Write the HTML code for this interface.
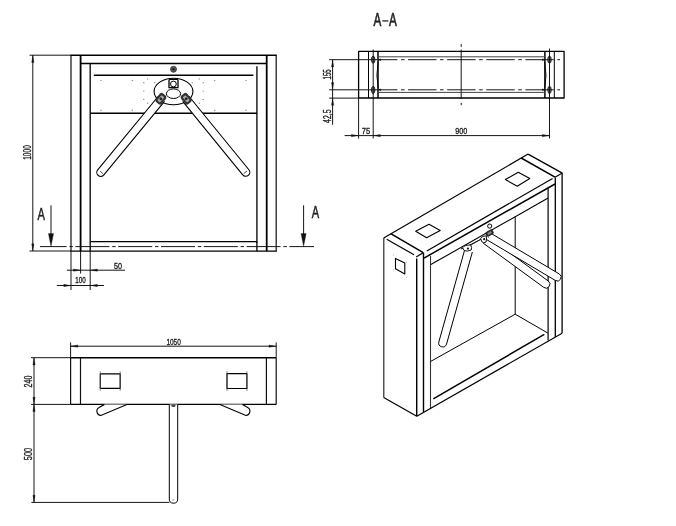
<!DOCTYPE html>
<html><head><meta charset="utf-8"><style>
html,body{margin:0;padding:0;background:#fff;}
svg{display:block;filter:grayscale(1);}
text{font-family:"Liberation Sans",sans-serif;}
</style></head><body>
<svg width="676" height="526" viewBox="0 0 676 526">
<rect width="676" height="526" fill="#fff"/>
<line x1="29.50" y1="55.20" x2="71.00" y2="55.20" stroke="#151515" stroke-width="1.0" />
<line x1="29.50" y1="251.00" x2="71.00" y2="251.00" stroke="#151515" stroke-width="1.0" />
<line x1="32.80" y1="55.20" x2="32.80" y2="251.00" stroke="#151515" stroke-width="1.0" />
<path d="M32.80,55.40 L33.95,62.40 L31.65,62.40 Z" fill="#111" stroke="#111" stroke-width="0.3"/>
<path d="M32.80,250.80 L31.65,243.80 L33.95,243.80 Z" fill="#111" stroke="#111" stroke-width="0.3"/>
<text x="31.10" y="159.80" font-size="10" fill="#222" stroke="#222" stroke-width="0.35" font-weight="normal" textLength="14.60" lengthAdjust="spacingAndGlyphs" transform="rotate(-90 31.10 159.80)" text-anchor="start">1000</text>
<line x1="71.00" y1="55.20" x2="71.00" y2="251.20" stroke="#222" stroke-width="1.3" />
<line x1="80.60" y1="55.20" x2="80.60" y2="251.20" stroke="#000" stroke-width="1.8" />
<line x1="266.70" y1="55.20" x2="266.70" y2="251.20" stroke="#000" stroke-width="1.8" />
<line x1="276.20" y1="55.20" x2="276.20" y2="251.20" stroke="#222" stroke-width="1.3" />
<line x1="70.40" y1="55.20" x2="276.80" y2="55.20" stroke="#000" stroke-width="1.45" />
<line x1="80.60" y1="63.50" x2="266.70" y2="63.50" stroke="#000" stroke-width="1.45" />
<line x1="90.20" y1="63.80" x2="90.20" y2="251.20" stroke="#111" stroke-width="1.4" />
<line x1="256.90" y1="66.20" x2="256.90" y2="251.20" stroke="#111" stroke-width="1.4" />
<line x1="93.80" y1="75.20" x2="253.40" y2="75.20" stroke="#000" stroke-width="1.45" />
<line x1="90.20" y1="113.20" x2="257.00" y2="113.20" stroke="#000" stroke-width="1.45" />
<path d="M90.2,241.6 L255.5,241.6 Q257,241.6 257,243" stroke="#000" stroke-width="1.45" fill="none" />
<line x1="70.40" y1="251.10" x2="276.80" y2="251.10" stroke="#000" stroke-width="1.45" />
<line x1="40.00" y1="246.60" x2="314.00" y2="246.60" stroke="#151515" stroke-width="1.0" stroke-dasharray="34 2.8 3.5 2.5" stroke-dashoffset="7.4"/>
<line x1="51.00" y1="205.30" x2="51.00" y2="240.00" stroke="#151515" stroke-width="1.0" />
<path d="M51.00,246.60 L48.40,233.60 L53.60,233.60 Z" fill="#111" stroke="#111" stroke-width="0.3"/>
<line x1="303.60" y1="205.30" x2="303.60" y2="240.00" stroke="#151515" stroke-width="1.0" />
<path d="M303.60,246.60 L301.00,233.60 L306.20,233.60 Z" fill="#111" stroke="#111" stroke-width="0.3"/>
<text x="37.60" y="220.40" font-size="16" fill="#222" stroke="#222" stroke-width="0.5" font-weight="normal" textLength="7.40" lengthAdjust="spacingAndGlyphs" text-anchor="start">A</text>
<text x="311.80" y="218.20" font-size="16" fill="#222" stroke="#222" stroke-width="0.5" font-weight="normal" textLength="7.40" lengthAdjust="spacingAndGlyphs" text-anchor="start">A</text>
<line x1="71.00" y1="251.00" x2="71.00" y2="290.00" stroke="#151515" stroke-width="1.0" />
<line x1="80.60" y1="251.00" x2="80.60" y2="273.50" stroke="#151515" stroke-width="1.0" />
<line x1="90.20" y1="251.00" x2="90.20" y2="290.00" stroke="#151515" stroke-width="1.0" />
<line x1="66.80" y1="270.20" x2="125.00" y2="270.20" stroke="#151515" stroke-width="1.0" />
<path d="M80.40,270.20 L73.40,271.35 L73.40,269.05 Z" fill="#111" stroke="#111" stroke-width="0.3"/>
<path d="M90.40,270.20 L97.40,269.05 L97.40,271.35 Z" fill="#111" stroke="#111" stroke-width="0.3"/>
<text x="114.10" y="268.90" font-size="9" fill="#222" stroke="#222" stroke-width="0.35" font-weight="normal" textLength="8.00" lengthAdjust="spacingAndGlyphs" text-anchor="start">50</text>
<line x1="56.80" y1="285.50" x2="104.00" y2="285.50" stroke="#151515" stroke-width="1.0" />
<path d="M70.80,285.50 L63.80,286.65 L63.80,284.35 Z" fill="#111" stroke="#111" stroke-width="0.3"/>
<path d="M90.40,285.50 L97.40,284.35 L97.40,286.65 Z" fill="#111" stroke="#111" stroke-width="0.3"/>
<text x="75.30" y="283.20" font-size="9" fill="#222" stroke="#222" stroke-width="0.35" font-weight="normal" textLength="10.40" lengthAdjust="spacingAndGlyphs" text-anchor="start">100</text>
<circle cx="101.00" cy="80.40" r="0.70" stroke="none" stroke-width="0" fill="#888"/>
<circle cx="246.00" cy="80.40" r="0.70" stroke="none" stroke-width="0" fill="#888"/>
<circle cx="132.30" cy="80.40" r="0.70" stroke="none" stroke-width="0" fill="#888"/>
<circle cx="214.70" cy="80.40" r="0.70" stroke="none" stroke-width="0" fill="#888"/>
<circle cx="147.70" cy="78.90" r="0.70" stroke="none" stroke-width="0" fill="#888"/>
<circle cx="199.30" cy="78.90" r="0.70" stroke="none" stroke-width="0" fill="#888"/>
<circle cx="143.80" cy="82.80" r="0.70" stroke="none" stroke-width="0" fill="#888"/>
<circle cx="203.20" cy="82.80" r="0.70" stroke="none" stroke-width="0" fill="#888"/>
<circle cx="143.80" cy="91.10" r="0.70" stroke="none" stroke-width="0" fill="#888"/>
<circle cx="203.20" cy="91.10" r="0.70" stroke="none" stroke-width="0" fill="#888"/>
<circle cx="143.80" cy="99.40" r="0.70" stroke="none" stroke-width="0" fill="#888"/>
<circle cx="203.20" cy="99.40" r="0.70" stroke="none" stroke-width="0" fill="#888"/>
<circle cx="147.70" cy="103.20" r="0.70" stroke="none" stroke-width="0" fill="#888"/>
<circle cx="199.30" cy="103.20" r="0.70" stroke="none" stroke-width="0" fill="#888"/>
<circle cx="101.00" cy="110.30" r="0.70" stroke="none" stroke-width="0" fill="#888"/>
<circle cx="246.00" cy="110.30" r="0.70" stroke="none" stroke-width="0" fill="#888"/>
<circle cx="132.30" cy="110.30" r="0.70" stroke="none" stroke-width="0" fill="#888"/>
<circle cx="214.70" cy="110.30" r="0.70" stroke="none" stroke-width="0" fill="#888"/>
<circle cx="154.80" cy="82.80" r="0.70" stroke="none" stroke-width="0" fill="#888"/>
<circle cx="192.20" cy="82.80" r="0.70" stroke="none" stroke-width="0" fill="#888"/>
<ellipse cx="173.50" cy="91.50" rx="19.40" ry="13.30" stroke="#000" stroke-width="1.1" fill="none"/>
<ellipse cx="173.50" cy="93.70" rx="7.10" ry="4.80" stroke="#000" stroke-width="1.0" fill="none"/>
<path d="M169,87.6 L169,80.5 Q169,79.3 170.3,79.3 L176.7,79.3 Q178,79.3 178,80.5 L178,87.6 Z" stroke="#000" stroke-width="1.3" fill="#fff" />
<circle cx="173.40" cy="84.00" r="2.90" stroke="#000" stroke-width="1.0" fill="none"/>
<circle cx="173.50" cy="69.30" r="3.00" stroke="#333" stroke-width="0.8" fill="#555"/>
<circle cx="173.50" cy="69.30" r="1.00" stroke="none" stroke-width="0" fill="#111"/>
<path d="M158.31,96.26 L97.71,169.86 A4.00,4.00 0 0 0 103.89,174.94 L164.49,101.34" stroke="#000" stroke-width="1.1" fill="#fff" stroke-linejoin="round"/>
<path d="M182.70,101.33 L242.70,174.83 A4.00,4.00 0 0 0 248.90,169.77 L188.90,96.27" stroke="#000" stroke-width="1.1" fill="#fff" stroke-linejoin="round"/>
<line x1="100.20" y1="171.20" x2="102.80" y2="173.50" stroke="#333" stroke-width="0.9" />
<line x1="243.80" y1="173.50" x2="247.00" y2="171.00" stroke="#333" stroke-width="0.9" />
<g transform="translate(160.8,98.8) rotate(-50)"><rect x="-5.5" y="-4" width="11" height="8" rx="2.4" fill="#333"/><rect x="-3.4" y="-1.8" width="6.8" height="3.6" rx="1" fill="#aaa"/><circle r="1.4" fill="#222"/></g>
<g transform="translate(186.2,98.8) rotate(50)"><rect x="-5.5" y="-4" width="11" height="8" rx="2.4" fill="#333"/><rect x="-3.4" y="-1.8" width="6.8" height="3.6" rx="1" fill="#aaa"/><circle r="1.4" fill="#222"/></g>
<text x="373.60" y="25.80" font-size="18" fill="#222" stroke="#222" stroke-width="0.6" font-weight="normal" textLength="7.80" lengthAdjust="spacingAndGlyphs" text-anchor="start">A</text>
<line x1="382.30" y1="20.90" x2="388.30" y2="20.90" stroke="#222" stroke-width="1.3" />
<text x="389.00" y="25.80" font-size="18" fill="#222" stroke="#222" stroke-width="0.6" font-weight="normal" textLength="7.80" lengthAdjust="spacingAndGlyphs" text-anchor="start">A</text>
<path d="M358.60,51.40 L564.10,51.40 L564.10,98.00 L358.60,98.00 Z" stroke="#000" stroke-width="1.3" fill="none" stroke-linejoin="round" />
<line x1="368.50" y1="51.40" x2="368.50" y2="98.00" stroke="#000" stroke-width="1.0" />
<line x1="378.00" y1="51.40" x2="378.00" y2="98.00" stroke="#000" stroke-width="1.5" />
<line x1="544.90" y1="51.40" x2="544.90" y2="98.00" stroke="#000" stroke-width="1.5" />
<line x1="554.30" y1="51.40" x2="554.30" y2="98.00" stroke="#000" stroke-width="1.0" />
<line x1="378.00" y1="56.80" x2="544.90" y2="56.80" stroke="#444" stroke-width="1.0" />
<line x1="378.00" y1="92.40" x2="544.90" y2="92.40" stroke="#444" stroke-width="1.0" />
<path d="M378.2,62 Q375.6,75.2 378.2,88.4" stroke="#000" stroke-width="0.9" fill="none" />
<path d="M544.7,62 Q547.3,75.2 544.7,88.4" stroke="#000" stroke-width="0.9" fill="none" />
<ellipse cx="373.20" cy="59.70" rx="1.70" ry="3.60" stroke="#222" stroke-width="1.0" fill="#777"/>
<ellipse cx="373.20" cy="89.90" rx="1.70" ry="3.60" stroke="#222" stroke-width="1.0" fill="#777"/>
<ellipse cx="549.50" cy="59.70" rx="1.70" ry="3.60" stroke="#222" stroke-width="1.0" fill="#777"/>
<ellipse cx="549.50" cy="89.90" rx="1.70" ry="3.60" stroke="#222" stroke-width="1.0" fill="#777"/>
<line x1="329.20" y1="59.70" x2="380.00" y2="59.70" stroke="#151515" stroke-width="1.0" />
<line x1="329.20" y1="89.80" x2="380.00" y2="89.80" stroke="#151515" stroke-width="1.0" />
<line x1="380.00" y1="59.70" x2="560.00" y2="59.70" stroke="#151515" stroke-width="1.0" stroke-dasharray="28.4 3.6 3.5 3.6" stroke-dashoffset="11"/>
<line x1="380.00" y1="89.80" x2="560.00" y2="89.80" stroke="#151515" stroke-width="1.0" stroke-dasharray="28.4 3.6 3.5 3.6" stroke-dashoffset="11"/>
<line x1="329.20" y1="98.10" x2="358.60" y2="98.10" stroke="#151515" stroke-width="1.0" />
<line x1="373.20" y1="49.60" x2="373.20" y2="138.50" stroke="#151515" stroke-width="1.0" />
<line x1="549.50" y1="48.60" x2="549.50" y2="138.50" stroke="#151515" stroke-width="1.0" />
<line x1="358.60" y1="98.00" x2="358.60" y2="138.50" stroke="#151515" stroke-width="1.0" />
<line x1="461.20" y1="44.20" x2="461.20" y2="46.90" stroke="#151515" stroke-width="1.0" />
<line x1="461.20" y1="49.60" x2="461.20" y2="99.00" stroke="#151515" stroke-width="1.0" />
<line x1="461.20" y1="102.80" x2="461.20" y2="105.20" stroke="#151515" stroke-width="1.0" />
<path d="M378.30,59.70 L380.80,58.70 L380.80,60.70 Z" fill="#111" stroke="#111" stroke-width="0.3"/>
<path d="M378.30,89.80 L380.80,88.80 L380.80,90.80 Z" fill="#111" stroke="#111" stroke-width="0.3"/>
<path d="M544.90,59.70 L542.40,60.70 L542.40,58.70 Z" fill="#111" stroke="#111" stroke-width="0.3"/>
<path d="M544.90,89.80 L542.40,90.80 L542.40,88.80 Z" fill="#111" stroke="#111" stroke-width="0.3"/>
<line x1="332.60" y1="59.70" x2="332.60" y2="124.80" stroke="#151515" stroke-width="1.0" />
<path d="M332.60,59.90 L333.75,66.90 L331.45,66.90 Z" fill="#111" stroke="#111" stroke-width="0.3"/>
<path d="M332.60,89.60 L331.45,82.60 L333.75,82.60 Z" fill="#111" stroke="#111" stroke-width="0.3"/>
<text x="330.80" y="79.50" font-size="10" fill="#222" stroke="#222" stroke-width="0.35" font-weight="normal" textLength="10.20" lengthAdjust="spacingAndGlyphs" transform="rotate(-90 330.80 79.50)" text-anchor="start">155</text>
<path d="M332.60,98.30 L333.75,105.30 L331.45,105.30 Z" fill="#111" stroke="#111" stroke-width="0.3"/>
<text x="330.90" y="122.90" font-size="10" fill="#222" stroke="#222" stroke-width="0.35" font-weight="normal" textLength="13.40" lengthAdjust="spacingAndGlyphs" transform="rotate(-90 330.90 122.90)" text-anchor="start">42,5</text>
<line x1="344.60" y1="135.60" x2="549.50" y2="135.60" stroke="#151515" stroke-width="1.0" />
<path d="M358.40,135.60 L351.40,136.75 L351.40,134.45 Z" fill="#111" stroke="#111" stroke-width="0.3"/>
<path d="M373.40,135.60 L380.40,134.45 L380.40,136.75 Z" fill="#111" stroke="#111" stroke-width="0.3"/>
<path d="M549.30,135.60 L542.30,136.75 L542.30,134.45 Z" fill="#111" stroke="#111" stroke-width="0.3"/>
<text x="361.80" y="133.90" font-size="9.4" fill="#222" stroke="#222" stroke-width="0.35" font-weight="normal" textLength="8.40" lengthAdjust="spacingAndGlyphs" text-anchor="start">75</text>
<text x="455.30" y="133.90" font-size="9.4" fill="#222" stroke="#222" stroke-width="0.35" font-weight="normal" textLength="12.00" lengthAdjust="spacingAndGlyphs" text-anchor="start">900</text>
<line x1="31.00" y1="357.70" x2="70.60" y2="357.70" stroke="#151515" stroke-width="1.0" />
<line x1="31.00" y1="404.40" x2="70.60" y2="404.40" stroke="#151515" stroke-width="1.0" />
<line x1="70.60" y1="357.70" x2="276.20" y2="357.70" stroke="#000" stroke-width="1.5" />
<line x1="70.60" y1="404.40" x2="276.20" y2="404.40" stroke="#000" stroke-width="1.25" />
<line x1="70.60" y1="357.70" x2="70.60" y2="404.40" stroke="#111" stroke-width="1.2" />
<line x1="80.50" y1="357.70" x2="80.50" y2="404.40" stroke="#111" stroke-width="1.2" />
<line x1="266.40" y1="357.70" x2="266.40" y2="404.40" stroke="#111" stroke-width="1.2" />
<line x1="276.20" y1="357.70" x2="276.20" y2="404.40" stroke="#111" stroke-width="1.2" />
<line x1="70.60" y1="342.40" x2="70.60" y2="357.70" stroke="#151515" stroke-width="1.0" />
<line x1="276.20" y1="342.40" x2="276.20" y2="357.70" stroke="#151515" stroke-width="1.0" />
<line x1="70.60" y1="346.20" x2="276.20" y2="346.20" stroke="#151515" stroke-width="1.0" />
<path d="M70.80,346.20 L77.80,345.05 L77.80,347.35 Z" fill="#111" stroke="#111" stroke-width="0.3"/>
<path d="M276.00,346.20 L269.00,347.35 L269.00,345.05 Z" fill="#111" stroke="#111" stroke-width="0.3"/>
<text x="166.40" y="344.90" font-size="9.6" fill="#222" stroke="#222" stroke-width="0.35" font-weight="normal" textLength="14.40" lengthAdjust="spacingAndGlyphs" text-anchor="start">1050</text>
<path d="M100.30,373.90 L120.20,373.90 L120.20,388.30 L100.30,388.30 Z" stroke="#000" stroke-width="1.2" fill="none" stroke-linejoin="round" />
<line x1="100.30" y1="371.40" x2="100.30" y2="390.80" stroke="#555" stroke-width="0.7" />
<line x1="120.20" y1="371.40" x2="120.20" y2="390.80" stroke="#555" stroke-width="0.7" />
<path d="M227.00,373.70 L246.90,373.70 L246.90,388.50 L227.00,388.50 Z" stroke="#000" stroke-width="1.2" fill="none" stroke-linejoin="round" />
<line x1="227.00" y1="371.20" x2="227.00" y2="391.00" stroke="#555" stroke-width="0.7" />
<line x1="246.90" y1="371.20" x2="246.90" y2="391.00" stroke="#555" stroke-width="0.7" />
<line x1="34.00" y1="357.70" x2="34.00" y2="404.40" stroke="#151515" stroke-width="1.0" />
<path d="M34.00,357.90 L35.15,364.90 L32.85,364.90 Z" fill="#111" stroke="#111" stroke-width="0.3"/>
<path d="M34.00,404.20 L32.85,397.20 L35.15,397.20 Z" fill="#111" stroke="#111" stroke-width="0.3"/>
<text x="32.30" y="387.40" font-size="10" fill="#222" stroke="#222" stroke-width="0.35" font-weight="normal" textLength="11.80" lengthAdjust="spacingAndGlyphs" transform="rotate(-90 32.30 387.40)" text-anchor="start">240</text>
<line x1="34.00" y1="404.40" x2="34.00" y2="502.40" stroke="#151515" stroke-width="1.0" />
<path d="M34.00,404.60 L35.15,411.60 L32.85,411.60 Z" fill="#111" stroke="#111" stroke-width="0.3"/>
<path d="M34.00,502.20 L32.85,495.20 L35.15,495.20 Z" fill="#111" stroke="#111" stroke-width="0.3"/>
<line x1="31.40" y1="502.40" x2="169.30" y2="502.40" stroke="#151515" stroke-width="1.0" />
<text x="32.50" y="460.20" font-size="10" fill="#222" stroke="#222" stroke-width="0.35" font-weight="normal" textLength="12.30" lengthAdjust="spacingAndGlyphs" transform="rotate(-90 32.50 460.20)" text-anchor="start">500</text>
<path d="M169.3,404.4 L169.3,499 Q169.3,503.2 173.5,503.2 Q177.7,503.2 177.7,499 L177.7,404.4" stroke="#000" stroke-width="1.0" fill="#fff" />
<line x1="172.20" y1="500.00" x2="174.60" y2="500.00" stroke="#555" stroke-width="0.6" />
<ellipse cx="173.4" cy="405.8" rx="2.2" ry="1.3" fill="#444"/>
<path d="M104.4,404.6 L99.1,407.6 A4.2,4.2 0 0 0 100.9,415.5 L126.9,404.6" stroke="#000" stroke-width="1.1" fill="#fff" />
<path d="M242.4,404.6 L247.7,407.6 A4.2,4.2 0 0 1 245.9,415.5 L219.9,404.6" stroke="#000" stroke-width="1.1" fill="#fff" />
<line x1="383.80" y1="238.00" x2="383.80" y2="397.40" stroke="#222" stroke-width="1.15" />
<line x1="383.70" y1="397.40" x2="416.80" y2="416.20" stroke="#000" stroke-width="1.2" />
<line x1="416.70" y1="258.50" x2="416.70" y2="416.20" stroke="#000" stroke-width="1.4" />
<line x1="383.70" y1="238.00" x2="528.10" y2="154.10" stroke="#000" stroke-width="1.2" />
<line x1="390.70" y1="233.60" x2="423.20" y2="252.60" stroke="#000" stroke-width="1.5" />
<line x1="386.70" y1="239.30" x2="414.00" y2="254.80" stroke="#000" stroke-width="1.2" />
<line x1="416.10" y1="257.00" x2="423.20" y2="252.80" stroke="#000" stroke-width="1.2" />
<line x1="423.50" y1="252.60" x2="423.50" y2="412.40" stroke="#000" stroke-width="1.4" />
<line x1="430.50" y1="255.80" x2="430.50" y2="408.40" stroke="#333" stroke-width="1.1" />
<path d="M395.50,258.40 L404.80,263.00 L404.80,274.00 L395.50,268.80 Z" stroke="#000" stroke-width="1.1" fill="none" stroke-linejoin="round" />
<circle cx="393.40" cy="254.90" r="0.50" stroke="none" stroke-width="0" fill="#999"/>
<circle cx="406.70" cy="262.20" r="0.50" stroke="none" stroke-width="0" fill="#999"/>
<circle cx="393.40" cy="269.80" r="0.50" stroke="none" stroke-width="0" fill="#999"/>
<circle cx="406.70" cy="277.40" r="0.50" stroke="none" stroke-width="0" fill="#999"/>
<path d="M415.70,231.30 L429.00,224.20 L440.20,230.40 L426.60,237.80 Z" stroke="#000" stroke-width="1.1" fill="none" stroke-linejoin="round" />
<path d="M505.40,179.60 L518.30,172.20 L529.80,178.50 L517.20,186.30 Z" stroke="#000" stroke-width="1.1" fill="none" stroke-linejoin="round" />
<line x1="426.80" y1="251.10" x2="552.60" y2="178.40" stroke="#000" stroke-width="1.2" />
<line x1="424.00" y1="258.10" x2="555.00" y2="184.00" stroke="#000" stroke-width="1.5" />
<line x1="430.80" y1="264.60" x2="548.10" y2="198.00" stroke="#000" stroke-width="1.1" />
<line x1="521.20" y1="158.00" x2="555.00" y2="177.20" stroke="#000" stroke-width="1.5" />
<line x1="528.10" y1="154.10" x2="562.30" y2="173.10" stroke="#000" stroke-width="1.3" />
<line x1="555.00" y1="177.20" x2="562.30" y2="173.10" stroke="#000" stroke-width="1.2" />
<line x1="562.10" y1="173.10" x2="562.10" y2="333.20" stroke="#000" stroke-width="1.3" />
<line x1="555.30" y1="177.40" x2="555.30" y2="337.00" stroke="#000" stroke-width="1.3" />
<line x1="548.10" y1="188.40" x2="548.10" y2="340.60" stroke="#000" stroke-width="1.2" />
<line x1="416.80" y1="416.20" x2="562.10" y2="333.20" stroke="#000" stroke-width="1.2" />
<line x1="433.30" y1="398.80" x2="544.30" y2="334.40" stroke="#000" stroke-width="1.5" />
<line x1="515.20" y1="216.40" x2="515.20" y2="314.20" stroke="#000" stroke-width="1.0" />
<line x1="515.20" y1="314.20" x2="430.70" y2="361.40" stroke="#000" stroke-width="1.0" />
<line x1="515.20" y1="314.20" x2="548.10" y2="333.20" stroke="#000" stroke-width="1.0" />
<path d="M464.65,249.92 L438.85,341.92 A4.00,4.00 0 0 0 446.55,344.08 L472.35,252.08" stroke="#000" stroke-width="1.0" fill="#fff" stroke-linejoin="round"/>
<path d="M483.20,243.15 L543.70,287.35 A3.90,3.90 0 0 0 548.30,281.05 L487.80,236.85" stroke="#000" stroke-width="1.0" fill="#fff" stroke-linejoin="round"/>
<path d="M487.06,239.87 L555.36,280.47 A3.80,3.80 0 0 0 559.24,273.93 L490.94,233.33" stroke="#000" stroke-width="1.0" fill="#fff" stroke-linejoin="round"/>
<circle cx="489.70" cy="226.10" r="2.10" stroke="#000" stroke-width="1.0" fill="none"/>
<path d="M461.00,249.00 L470.00,245.00 L487.00,236.00 L491.00,232.00" stroke="#000" stroke-width="1.0" fill="none" stroke-linejoin="round" />
<line x1="470.70" y1="245.00" x2="481.00" y2="239.30" stroke="#222" stroke-width="0.8" />
<g transform="translate(489.6,233.0) rotate(-32)"><rect x="-4" y="-2.6" width="8" height="5.2" rx="1.5" fill="#2a2a2a"/><rect x="-2" y="-1" width="4" height="2" fill="#888"/></g>
<path d="M462.6,247.8 Q464.5,244.8 470.8,245.0 Q472.2,247.6 471.2,250.0 Q467.5,251.8 464.3,250.6 Z" stroke="#111" stroke-width="1.0" fill="#fff" />
<circle cx="467.90" cy="248.60" r="1.10" stroke="none" stroke-width="0" fill="#111"/>
<path d="M480.6,238.4 Q482.5,235.6 486.2,235.8 Q487.0,239.0 486.0,242.0 Q483.5,243.4 481.8,241.8 Z" stroke="#111" stroke-width="1.0" fill="#fff" />
<circle cx="484.20" cy="239.20" r="1.10" stroke="none" stroke-width="0" fill="#111"/>
</svg>
</body></html>
